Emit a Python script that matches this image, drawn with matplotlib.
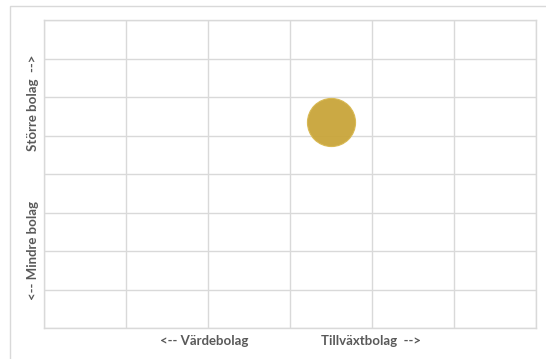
import matplotlib
matplotlib.use("Agg")
from matplotlib import pyplot as plt
from matplotlib.patches import Rectangle

# style grid: x = värde/tillväxt, y = liten/stor
x_limits = [-3, 3]
y_limits = [-4, 4]
bubble_x = [0.5]
bubble_y = [1.35]
bubble_size = [1200]

x_labels = ['<-- Värdebolag', 'Tillväxtbolag  -->']
y_labels = ['<-- Mindre bolag', 'Större bolag  -->']

plt.rcParams['font.family'] = ['Lato', 'DejaVu Sans']

fig = plt.figure(figsize=(5.46, 3.59), dpi=100)
fig.patch.set_facecolor('white')

# chart area frame
fig.patches.append(Rectangle((9.5 / 546, -0.1), 1.2, 1 - 6 / 359 + 0.1,
                             transform=fig.transFigure, fill=False,
                             edgecolor='#d9d9d9', linewidth=1.0))

ax = fig.add_axes([0.0815, 0.0864, 0.9002, 0.8565])
ax.set_xlim(x_limits)
ax.set_ylim(y_limits)
ax.set_xticks(range(x_limits[0], x_limits[1] + 1))
ax.set_yticks(range(y_limits[0], y_limits[1] + 1))
ax.grid(True, color='#d9d9d9', linewidth=1.0)
ax.tick_params(length=0, labelbottom=False, labelleft=False)
for s in ax.spines.values():
    s.set_color('#d9d9d9')
    s.set_linewidth(1.0)
ax.set_axisbelow(True)

ax.scatter(bubble_x, bubble_y, s=bubble_size, color='#c9a53a',
           edgecolors='#d8b850', linewidths=0.8, alpha=0.95, zorder=3)

label_style = dict(fontsize=9.5, fontweight='bold', color='#595959',
                   ha='center', va='center')
fig.text(204 / 546, 1 - 341 / 359, x_labels[0], **label_style)
fig.text(371 / 546, 1 - 341 / 359, x_labels[1], **label_style)
fig.text(33 / 546, 1 - 250 / 359, y_labels[0], rotation=90, **label_style)
fig.text(33 / 546, 1 - 103 / 359, y_labels[1], rotation=90, **label_style)

plt.savefig('out.png', dpi=100)
